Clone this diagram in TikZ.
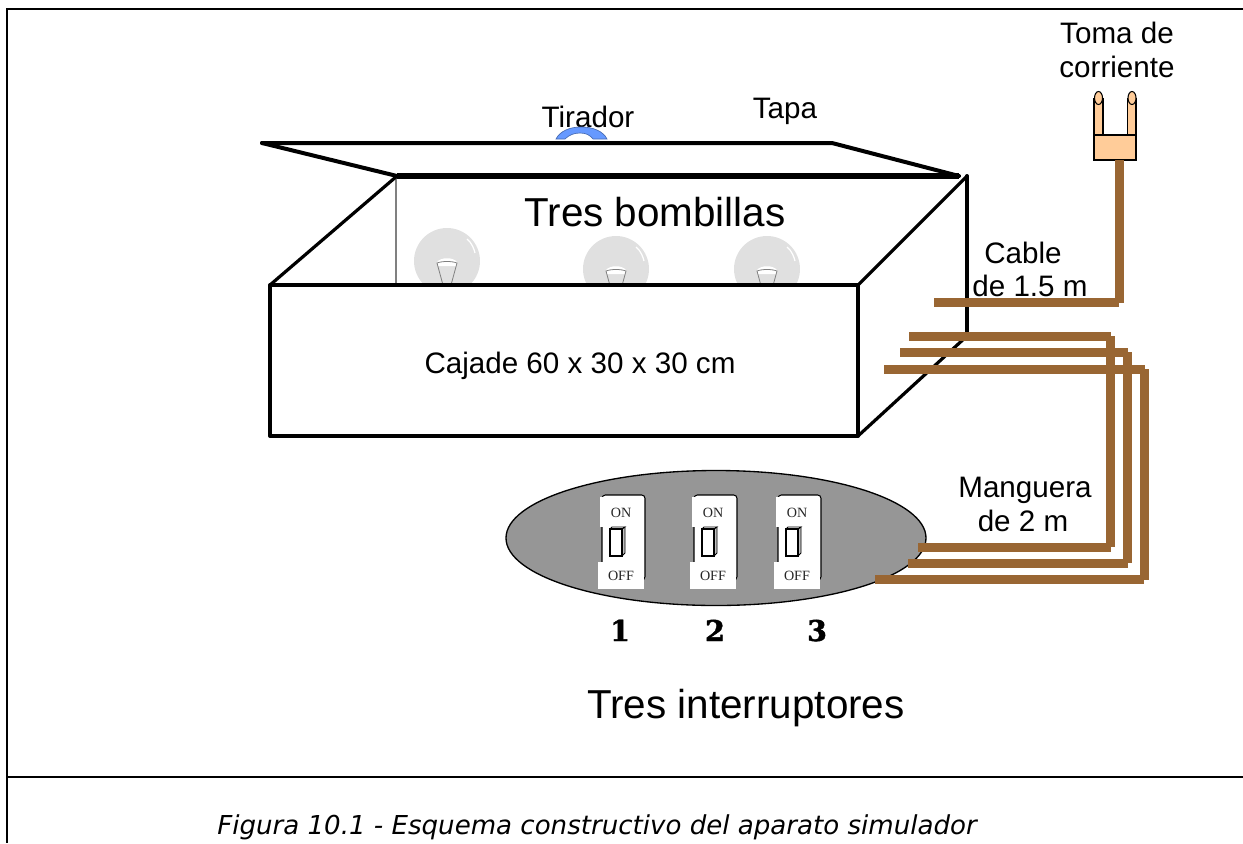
\documentclass[tikz,border=0pt]{standalone}
\usepackage{fontspec}
\setmainfont{Liberation Sans}
\newfontfamily\capfont{DejaVu Sans}
\newfontfamily\swfont{Liberation Serif}
\newfontfamily\numfont[BoldFeatures={FakeBold=1.4}]{DejaVu Serif}
\definecolor{cablebrown}{HTML}{996633}
\definecolor{plugskin}{HTML}{FFCC99}
\definecolor{plategray}{HTML}{969696}
\definecolor{bulbgray}{HTML}{E0E0E0}
\definecolor{handleblue}{HTML}{6699FF}
\tikzset{
  lbl/.style={inner sep=0pt,anchor=base,font=\fontsize{22.2}{24}\selectfont},
  biglbl/.style={inner sep=0pt,anchor=base,font=\fontsize{30.3}{32}\selectfont},
  swlbl/.style={inner sep=0pt,anchor=center,font=\swfont\fontsize{10.6}{12}\selectfont,text=black!85},
  numlbl/.style={inner sep=0pt,anchor=base,font=\numfont\bfseries\fontsize{21.5}{24}\selectfont},
  boxline/.style={line width=3pt,line cap=round,line join=round},
  cable/.style={draw=cablebrown,line width=6.75pt,line cap=butt},
  pics/bulb/.style={code={
    \begin{scope}
      \clip (-40,-40) rectangle (40,#1);
      \fill[bulbgray] (0,0) circle (33);
      \draw[white,line width=.9pt] (20,-22) .. controls (25,-18) and (27,-12) .. (28,-8);
      \fill[white] (-10,1) .. controls (-6,-4) and (6,-4) .. (10,1) -- (9,5) -- (-9,5) -- cycle;
      \draw[gray,line width=.6pt] (-10,2) .. controls (-5,0) and (5,0) .. (10,2) -- (4,24) -- (-4,24) -- cycle;
    \end{scope}
  }},
  pics/toggle/.style={code={
    \draw[black,line width=.8pt,fill=white,rounded corners=2.5pt] (0,0) rectangle (43,85);
    \fill[white] (-2,2) rectangle (41,32);
    \fill[white] (-4,67) rectangle (42,94);
    \draw[line width=.6pt,fill=black!25] (20,34) -- (23,32) -- (23,58) -- (20,61) -- cycle;
    \draw[line width=.6pt,fill=white] (8,34) -- (10,32) -- (23,32) -- (20,34) -- cycle;
    \draw[line width=.8pt,fill=white] (8,34) rectangle (20,61);
    \node[swlbl] (-on) at (19,18) {ON};
    \node[swlbl] (-off) at (19,81) {OFF};
  }},
}
\begin{document}
\begin{tikzpicture}[x=.75pt,y=-.75pt]
\path[use as bounding box] (0,0) rectangle (1243,843);
% frame
\draw[line width=1.5pt] (1243,9) -- (7,9) -- (7,843);
\draw[line width=1.5pt] (7,777) -- (1243,777);
% bulbs
\pic at (447,261) {bulb=24};
\pic at (616,269) {bulb=16};
\pic at (767,269) {bulb=16};
% box
\draw[gray,line width=.9pt] (396,176) -- (396,285);
\draw[boxline] (262,143) -- (832,143) -- (959,176);
\draw[boxline] (262,143) -- (397,176);
\draw[line width=4.5pt] (397,176) -- (959,176);
\draw[boxline,line width=2.4pt] (270,285) -- (397,176);
\draw[boxline,line width=2.4pt] (858,285) -- (967,176);
\draw[boxline] (967,176) -- (967,336);
\draw[boxline,line width=2.4pt] (858,436) -- (967,336);
\draw[boxline] (270,285) rectangle (858,436);
% handle
\node[lbl] (tirador) at (588,127) {Tirador};
\draw[handleblue!70!black,line width=.5pt,fill=handleblue] (556,139) .. controls (560,131) and (570,127) .. (581,127) .. controls (593,127) and (603,131) .. (607,139) -- (593,139) .. controls (590,135) and (586,133) .. (580,133) .. controls (574,133) and (569,135) .. (565,139) -- cycle;
% labels
\node[lbl] (tapa) at (785,118) {Tapa};
\node[biglbl] (bombillas) at (655,226) {Tres bombillas};
\node[lbl] (caja) at (580,373) {Cajade 60 x 30 x 30 cm};
\node[lbl] (toma1) at (1117,43) {Toma de};
\node[lbl] (toma2) at (1117,77) {corriente};
\node[lbl] (cable1) at (1023,263) {Cable};
\node[lbl] (cable2) at (1030,296) {de 1.5 m};
\node[lbl] (mang1) at (1025,497) {Manguera};
\node[lbl] (mang2) at (1023,531) {de 2 m};
\node[biglbl] (inter) at (746,718) {Tres interruptores};
\node[inner sep=0pt,anchor=base,font=\capfont\itshape\fontsize{19.55}{22}\selectfont] (caption) at (597,834) {Figura 10.1 - Esquema constructivo del aparato simulador};
% plug
\fill[plugskin] (1094,97) rectangle (1103,135) (1128,97) rectangle (1136,135);
\draw[line width=.8pt] (1094,98) -- (1094,135) (1103,98) -- (1103,135) (1127.5,98) -- (1127.5,135) (1136,98) -- (1136,135);
\draw[line width=.8pt,fill=plugskin] (1098.5,98) ellipse (4 and 6.5);
\draw[line width=.8pt,fill=plugskin] (1132,98) ellipse (4 and 6.5);
\draw[line width=.8pt,fill=plugskin] (1094,135) rectangle (1136,160);
% plate
\draw[line width=1pt,fill=plategray] (716,538) ellipse (210 and 67.5);
\pic (swa) at (602,495) {toggle};
\pic (swb) at (694,495) {toggle};
\pic (swc) at (778,495) {toggle};
\node[numlbl] (n1) at (620,641) {1};
\node[numlbl] (n2) at (715,641) {2};
\node[numlbl] (n3) at (817,641) {3};
% cables
\draw[cable] (1119,160) -- (1119,303);
\draw[cable] (934,302) -- (1119,302);
\draw[cable] (1110.5,336) -- (1110.5,547);
\draw[cable] (909,336) -- (1111,336);
\draw[cable] (918,547) -- (1111,547);
\draw[cable] (1127.5,352) -- (1127.5,563);
\draw[cable] (900,352) -- (1128,352);
\draw[cable] (908,563) -- (1128,563);
\draw[cable] (1144.5,369) -- (1144.5,580);
\draw[cable] (884,369) -- (1145,369);
\draw[cable] (875,579) -- (1144,579);
\end{tikzpicture}
\end{document}
